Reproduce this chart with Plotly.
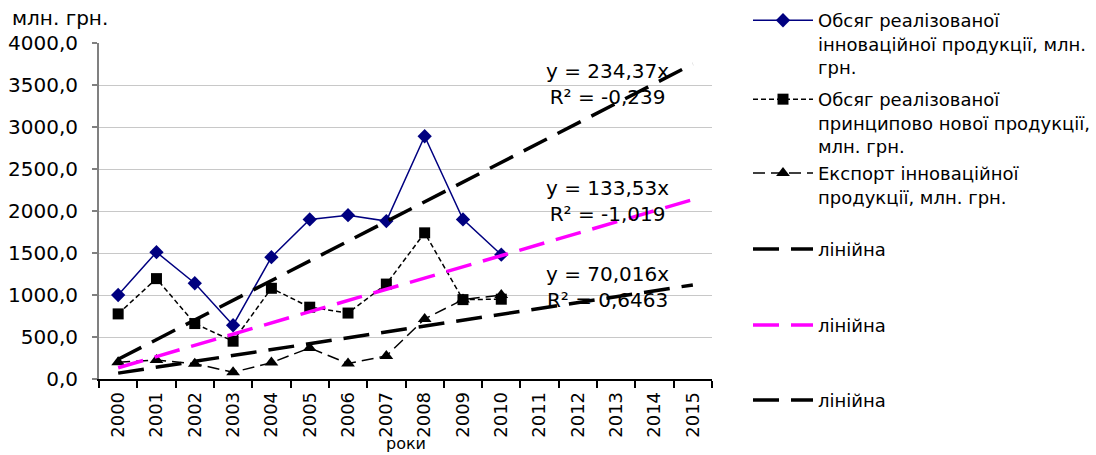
import plotly.graph_objects as go

years = [str(y) for y in range(2000, 2016)]
data_years = [str(y) for y in range(2000, 2011)]

innov_sales = [1000, 1510, 1140, 640, 1450, 1900, 1950, 1880, 2890, 1900, 1480]
new_sales = [775, 1195, 660, 450, 1080, 855, 785, 1130, 1740, 945, 950]
innov_export = [200, 225, 182, 80, 195, 370, 185, 275, 715, 945, 1000]

trend_slopes = [234.37, 133.53, 70.016]
trend_labels = ["y = 234,37x<br>R² = -0,239", "y = 133,53x<br>R² = -1,019", "y = 70,016x<br>R² = 0,6463"]
trend_label_y = [3515, 2125, 1090]
trend_colors = ["#000000", "#FF00FF", "#000000"]

y_ticks = [0, 500, 1000, 1500, 2000, 2500, 3000, 3500, 4000]
y_ticktext = ["0,0", "500,0", "1000,0", "1500,0", "2000,0", "2500,0", "3000,0", "3500,0", "4000,0"]

series_names = [
    "Обсяг реалізованої<br>інноваційної продукції, млн.<br>грн.",
    "Обсяг реалізованої<br>принципово нової продукції,<br>млн. грн.",
    "Експорт інноваційної<br>продукції, млн. грн.",
]

FONT = "DejaVu Sans"

fig = go.Figure()

fig.add_trace(go.Scatter(
    x=data_years, y=innov_sales, mode="lines+markers", name=series_names[0],
    line=dict(color="#000080", width=1.5),
    marker=dict(symbol="diamond", size=11, color="#000080"),
    legend="legend",
))
fig.add_trace(go.Scatter(
    x=data_years, y=new_sales, mode="lines+markers", name=series_names[1],
    line=dict(color="#000000", width=1.5, dash="5px,3px"),
    marker=dict(symbol="square", size=11, color="#000000"),
    legend="legend2",
))
fig.add_trace(go.Scatter(
    x=data_years, y=innov_export, mode="lines+markers", name=series_names[2],
    line=dict(color="#000000", width=1.5, dash="12px,6px"),
    marker=dict(symbol="triangle-up", size=12, color="#000000"),
    legend="legend3",
))

legend_ids = ["legend4", "legend5", "legend6"]
for slope, color, lg in zip(trend_slopes, trend_colors, legend_ids):
    tx = [years[0], years[-1]]
    ty = [slope * 1, slope * len(years)]
    fig.add_trace(go.Scatter(
        x=tx, y=ty, mode="lines", name="лінійна",
        line=dict(color=color, width=3.5, dash="26px,12px"),
        legend=lg,
    ))

for txt, yy in zip(trend_labels, trend_label_y):
    fig.add_annotation(
        x=0.83, xref="paper", y=yy, yref="y", text=txt, showarrow=False,
        font=dict(family=FONT, size=20, color="#000000"), align="center",
        xanchor="center", yanchor="middle",
    )

fig.add_annotation(
    x=-0.145, xref="paper", y=1.073, yref="paper", text="млн. грн.", showarrow=False,
    font=dict(family=FONT, size=20, color="#000000"), xanchor="left", yanchor="middle",
)
fig.add_annotation(
    x=0.5, xref="paper", y=-0.2245, yref="paper", text="роки", showarrow=False,
    font=dict(family=FONT, size=16, color="#000000"), xanchor="center", yanchor="bottom",
    borderpad=0,
)

L = 99
T = 43
W = 613
H = 336.3


def px2paper(px, py):
    return (px - L) / W, (T + H - py) / H


legend_tops = [2, 81, 155, 231, 307, 382]
legend_style = dict(
    font=dict(family=FONT, size=18, color="#000000"),
    bgcolor="rgba(0,0,0,0)", borderwidth=0, itemwidth=60,
    xanchor="left", yanchor="top", valign="top", tracegroupgap=0,
)
layout_legends = {}
for i, top in enumerate(legend_tops):
    lx, ly = px2paper(748, top)
    key = "legend" if i == 0 else f"legend{i + 1}"
    layout_legends[key] = dict(x=lx, y=ly, **legend_style)

fig.update_layout(
    width=1096, height=455,
    margin=dict(l=L, r=1096 - L - W, t=T, b=455 - T - H, autoexpand=False),
    paper_bgcolor="#FFFFFF", plot_bgcolor="#FFFFFF",
    font=dict(family=FONT, size=18, color="#000000"),
    showlegend=True,
    xaxis=dict(
        type="category", categoryorder="array", categoryarray=years,
        tickvals=years, ticktext=years, tickangle=-90,
        tickson="boundaries", ticks="outside", ticklen=7, tickcolor="#000000", tickwidth=1.5,
        showline=True, linecolor="#000000", linewidth=1.5, showgrid=False,
        tickfont=dict(family=FONT, size=18, color="#000000"), range=[-0.5, 15.5],
        zeroline=False, ticklabelstandoff=4, automargin=False,
    ),
    yaxis=dict(
        range=[0, 4000], tickvals=y_ticks, ticktext=y_ticktext,
        ticks="outside", ticklen=5, tickcolor="#808080", tickwidth=1.5,
        showline=True, linecolor="#808080", linewidth=2,
        showgrid=True, gridcolor="#C8C8C8", gridwidth=1, zeroline=False,
        tickfont=dict(family=FONT, size=20, color="#000000"), ticklabelstandoff=10,
        automargin=False,
    ),
    **layout_legends,
)

fig.write_html("out.html")
